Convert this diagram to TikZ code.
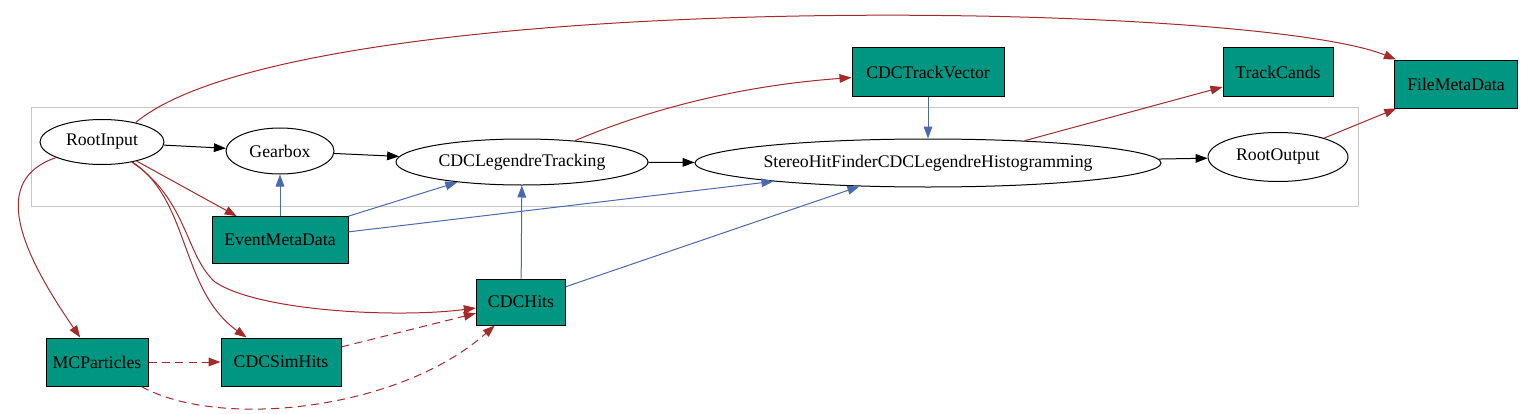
\documentclass[tikz,border=0pt]{standalone}
\usepackage{fontspec}
\setmainfont{Liberation Serif}
\usetikzlibrary{arrows.meta,shapes.geometric}
\definecolor{boxgreen}{HTML}{009682}
\definecolor{edgered}{HTML}{A52A2A}
\definecolor{edgeblue}{HTML}{4A6AB0}
\definecolor{clustergray}{HTML}{C8C8C8}
\begin{document}
\begin{tikzpicture}[x=0.75pt,y=-0.75pt,
  font=\fontsize{13.3}{16}\selectfont,
  mod/.style={ellipse,draw=black,line width=0.75pt,inner sep=0pt,fill=white},
  obj/.style={rectangle,draw=black,line width=0.75pt,fill=boxgreen,inner sep=0pt},
  tip/.style={-{Triangle[length=9pt,width=6.5pt]}},
  flow/.style={tip,draw=black,line width=0.75pt},
  prod/.style={tip,draw=edgered,color=edgered,line width=0.75pt},
  use/.style={tip,draw=edgeblue,color=edgeblue,line width=0.75pt},
  rel/.style={prod,dashed,dash pattern=on 6pt off 4pt}]
\useasboundingbox (0,0) rectangle (1524,414);
\fill[white] (0,0) rectangle (1524,414);
% cluster
\draw[clustergray,line width=0.75pt] (31,107) rectangle (1358,206);
% modules
\node[mod,minimum width=93pt,minimum height=33.75pt] (ri) at (102,142) {RootInput};
\node[mod,minimum width=81pt,minimum height=34.5pt] (gb) at (280,151) {Gearbox};
\node[mod,minimum width=189pt,minimum height=34.5pt] (clt) at (522,162) {CDCLegendreTracking};
\node[mod,minimum width=349.5pt,minimum height=36pt] (sh) at (928,163) {StereoHitFinderCDCLegendreHistogramming};
\node[mod,minimum width=105pt,minimum height=36.75pt] (ro) at (1278,157) {RootOutput};
% data objects
\node[obj,minimum width=114pt,minimum height=36.75pt] (ctv) at (928,72) {CDCTrackVector};
\node[obj,minimum width=82.5pt,minimum height=36.75pt] (tc) at (1278,72) {TrackCands};
\node[obj,minimum width=92pt,minimum height=36pt] (fmd) at (1456,84) {FileMetaData};
\node[obj,minimum width=102pt,minimum height=35pt] (emd) at (280,240) {EventMetaData};
\node[obj,minimum width=67pt,minimum height=34.5pt] (ch) at (521,302) {CDCHits};
\node[obj,minimum width=76.5pt,minimum height=36pt] (mcp) at (97,362) {MCParticles};
\node[obj,minimum width=90pt,minimum height=36pt] (csh) at (281,362) {CDCSimHits};
\coordinate (bend) at (215,282);
% black flow
\draw[flow] (ri) -- (gb);
\draw[flow] (gb) -- (clt);
\draw[flow] (clt) -- (sh);
\draw[flow] (sh) -- (ro);
% red outputs
\draw[prod] (ri.30) .. controls (300,-15) and (1250,0) .. (fmd);
\draw[prod] (ri) -- (emd);
\draw[prod] (ri) .. controls (-10,180) and (20,250) .. (mcp);
\draw[prod] (ri) .. controls (190,200) and (180,290) .. (csh);
\draw[prod] (ri) .. controls (188,200) and (185,255) .. (bend) .. controls (260,312) and (400,318) .. (ch);
\draw[prod] (clt.22) .. controls (660,105) and (750,85) .. (ctv);
\draw[prod] (sh.13) -- (tc);
\draw[prod] (ro) -- (fmd);
% dashed relations
\draw[rel] (mcp) -- (csh);
\draw[rel] (csh) -- (ch);
\draw[rel] (mcp) .. controls (220,430) and (400,410) .. (ch);
% blue inputs
\draw[use] (emd) -- (gb);
\draw[use] (emd.north east) -- (clt);
\draw[use] (emd) -- (sh);
\draw[use] (ch) -- (clt);
\draw[use] (ch) -- (sh);
\draw[use] (ctv) -- (sh);
\end{tikzpicture}
\end{document}
